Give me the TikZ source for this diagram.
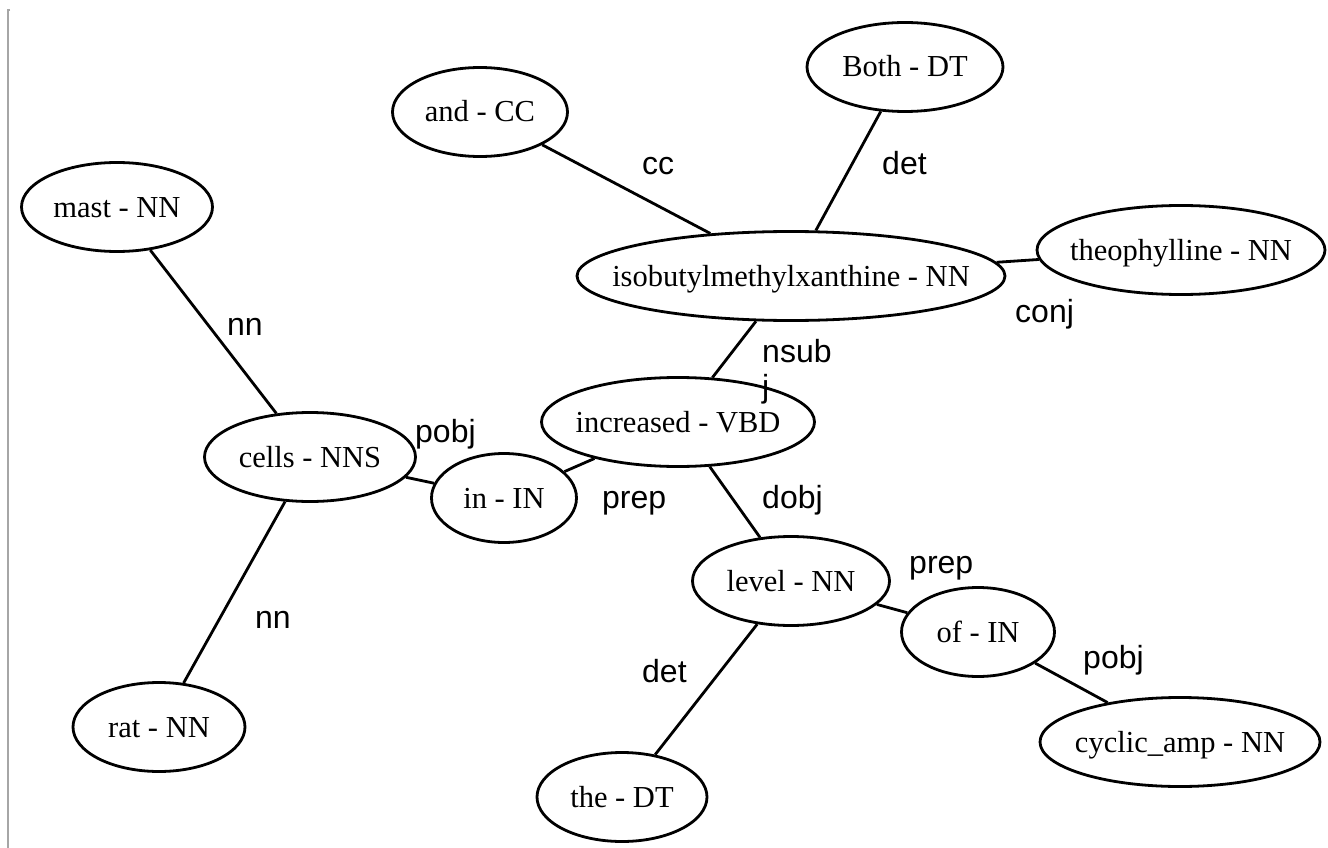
\documentclass[tikz,border=0pt]{standalone}
\usepackage{fontspec}
\setmainfont{Liberation Serif}
\newfontfamily\labelfont{Liberation Sans}
\usetikzlibrary{shapes.geometric}

% centred text of zero width, so that the ellipse keeps its given size
\newcommand\wlab[1]{\makebox[0pt][c]{#1}}

\tikzset{
  word/.style={ellipse, draw, line width=2.8pt, inner sep=0pt,
    minimum height=89pt, text height=20pt, text depth=0pt,
    font=\fontsize{30.5}{34}\selectfont},
  dep/.style={line width=2.8pt},
  lbl/.style={inner sep=0pt, anchor=base west,
    font=\labelfont\fontsize{32}{35}\selectfont},
}

\begin{document}
\begin{tikzpicture}[x=1pt, y=-1pt]
  \useasboundingbox (0,0) rectangle (1328,848);
  \fill[white] (0,0) rectangle (1328,848);

  % frame edge on the left
  \draw[gray!70, line width=1.2pt] (10,10) -- (8,10) -- (8,848);

  % words
  \node[word, minimum width=196pt] (both)  at (905,67)  {\wlab{Both - DT}};
  \node[word, minimum width=175pt] (and)   at (480,112) {\wlab{and - CC}};
  \node[word, minimum width=191pt] (mast)  at (117,207) {\wlab{mast - NN}};
  \node[word, minimum width=428pt] (isob)  at (791,276) {\wlab{isobutylmethylxanthine - NN}};
  \node[word, minimum width=288pt] (theo)  at (1181,250) {\wlab{theophylline - NN}};
  \node[word, minimum width=273pt] (incr)  at (678,422) {\wlab{increased - VBD}};
  \node[word, minimum width=211pt] (cells) at (310,457) {\wlab{cells - NNS}};
  \node[word, minimum width=145pt] (in)    at (504,498) {\wlab{in - IN}};
  \node[word, minimum width=197pt] (level) at (791,581) {\wlab{level - NN}};
  \node[word, minimum width=153pt] (of)    at (978,632) {\wlab{of - IN}};
  \node[word, minimum width=172pt] (rat)   at (159,727) {\wlab{rat - NN}};
  \node[word, minimum width=170pt] (the)   at (622,797) {\wlab{the - DT}};
  \node[word, minimum width=280pt] (cyc)   at (1180,742) {\wlab{cyclic\_amp - NN}};

  % dependencies
  \draw[dep] (and) -- (isob);
  \draw[dep] (both) -- (isob);
  \draw[dep] (isob) -- (theo);
  \draw[dep] (isob) -- (incr);
  \draw[dep] (mast) -- (cells);
  \draw[dep] (cells) -- (rat);
  \draw[dep] (cells) -- (in);
  \draw[dep] (in) -- (incr);
  \draw[dep] (incr) -- (level);
  \draw[dep] (level) -- (the);
  \draw[dep] (level) -- (of);
  \draw[dep] (of) -- (cyc);

  % relation names
  \node[lbl] (l-cc)    at (642,175) {cc};
  \node[lbl] (l-det1)  at (882,175) {det};
  \node[lbl] (l-conj)  at (1015,322) {conj};
  \node[lbl] (l-nn1)   at (227,335) {nn};
  \node[lbl, align=left] (l-nsubj) at (762,397) {nsub\\j};
  \node[lbl] (l-pobj1) at (415,442) {pobj};
  \node[lbl] (l-prep1) at (602,508) {prep};
  \node[lbl] (l-dobj)  at (762,508) {dobj};
  \node[lbl] (l-prep2) at (909,573) {prep};
  \node[lbl] (l-nn2)   at (255,628) {nn};
  \node[lbl] (l-pobj2) at (1083,668) {pobj};
  \node[lbl] (l-det2)  at (642,682) {det};
\end{tikzpicture}
\end{document}
